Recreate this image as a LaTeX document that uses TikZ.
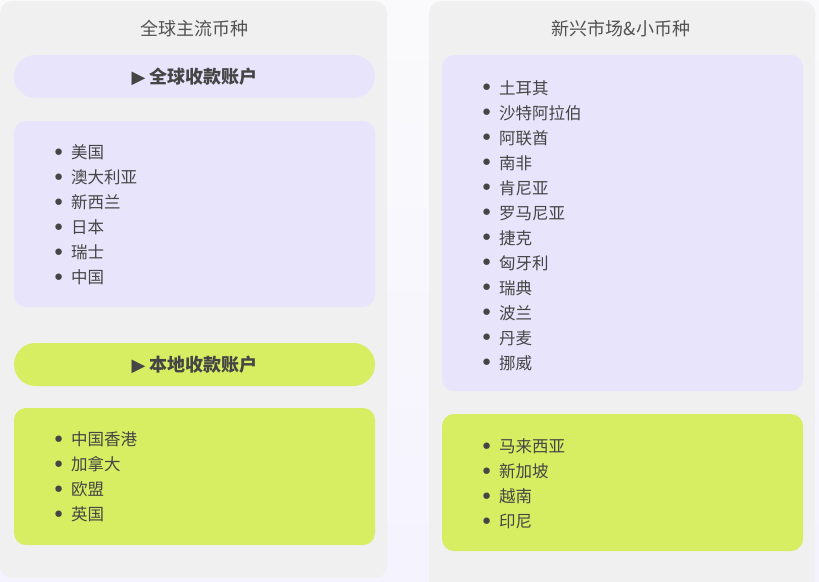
\documentclass[tikz,border=0pt]{standalone}
\usepackage{fontspec}
\setmainfont{Noto Sans CJK SC}
\newfontfamily\symfont{DejaVu Sans}
\usepackage{tikz}
\usetikzlibrary{positioning}
\definecolor{bgtop}{HTML}{FAFAFC}
\definecolor{bgbot}{HTML}{F5F3FE}
\definecolor{panelgray}{HTML}{F0F0F0}
\definecolor{lavender}{HTML}{E8E4FB}
\definecolor{lime}{HTML}{D7EE63}
\definecolor{inkgray}{HTML}{454545}
\newcommand{\itm}[1]{\makebox[19pt][l]{\raisebox{-1.3pt}{\scalebox{1.35}{\symfont •}}}#1}

\begin{document}
\begin{tikzpicture}[x=1pt,y=-1pt,
                    panel/.style={fill=panelgray,rounded corners=12pt},
                    list box/.style={fill=#1,rounded corners=12pt},
                    head node/.style={fill=#1,rounded corners=21.5pt,minimum width=361pt,minimum height=43pt,
                                      inner sep=0pt,text=inkgray,font=\fontsize{18}{21}\selectfont\bfseries},
                    title node/.style={text=black!68,font=\fontsize{18}{21}\selectfont},
                    item node/.style={anchor=north west,inner sep=0pt,text width=280pt,align=left,
                                      text height=12pt,text depth=4pt,
                                      text=inkgray,font=\fontsize{16.5}{19}\selectfont}]

  \useasboundingbox (0,0) rectangle (819,581);
  \shade[top color=bgtop,bottom color=bgbot] (0,0) rectangle (819,581);

  % two columns
  \fill[panel] (0,1) rectangle (387,578);
  \fill[panel] (429,1) rectangle (815,600);

  % left column
  \node[title node] (lefttitle) at (194,28.5) {全球主流币种};
  \node[head node=lavender] (globalhead) at (194.5,76.5) {{\symfont ▶}\ 全球收款账户};
  \fill[list box=lavender] (14,121) rectangle (375,307);
  \node[item node] (us) at (52,146.5) {\itm{美国}};
  \node[item node] (au) [below=8.6pt of us] {\itm{澳大利亚}};
  \node[item node] (nz) [below=8.6pt of au] {\itm{新西兰}};
  \node[item node] (jp) [below=8.6pt of nz] {\itm{日本}};
  \node[item node] (ch) [below=8.6pt of jp] {\itm{瑞士}};
  \node[item node] (cn) [below=8.6pt of ch] {\itm{中国}};

  \node[head node=lime] (localhead) at (194.5,364.5) {{\symfont ▶}\ 本地收款账户};
  \fill[list box=lime] (14,408) rectangle (375,545);
  \node[item node] (hk) at (52,433.5) {\itm{中国香港}};
  \node[item node] (ca) [below=8.6pt of hk] {\itm{加拿大}};
  \node[item node] (eu) [below=8.6pt of ca] {\itm{欧盟}};
  \node[item node] (uk) [below=8.6pt of eu] {\itm{英国}};

  % right column
  \node[title node] (righttitle) at (621,28.5) {新兴市场\&小币种};
  \fill[list box=lavender] (442,55) rectangle (803,391);
  \node[item node] (tr) at (480,82) {\itm{土耳其}};
  \node[item node] (sa) [below=8.6pt of tr] {\itm{沙特阿拉伯}};
  \node[item node] (ae) [below=8.6pt of sa] {\itm{阿联酋}};
  \node[item node] (za) [below=8.6pt of ae] {\itm{南非}};
  \node[item node] (ke) [below=8.6pt of za] {\itm{肯尼亚}};
  \node[item node] (ro) [below=8.6pt of ke] {\itm{罗马尼亚}};
  \node[item node] (cz) [below=8.6pt of ro] {\itm{捷克}};
  \node[item node] (hu) [below=8.6pt of cz] {\itm{匈牙利}};
  \node[item node] (se) [below=8.6pt of hu] {\itm{瑞典}};
  \node[item node] (pl) [below=8.6pt of se] {\itm{波兰}};
  \node[item node] (dk) [below=8.6pt of pl] {\itm{丹麦}};
  \node[item node] (no) [below=8.6pt of dk] {\itm{挪威}};

  \fill[list box=lime] (442,414) rectangle (803,551);
  \node[item node] (my) at (480,440.5) {\itm{马来西亚}};
  \node[item node] (sg) [below=8.6pt of my] {\itm{新加坡}};
  \node[item node] (vn) [below=8.6pt of sg] {\itm{越南}};
  \node[item node] (id) [below=8.6pt of vn] {\itm{印尼}};
\end{tikzpicture}
\end{document}
